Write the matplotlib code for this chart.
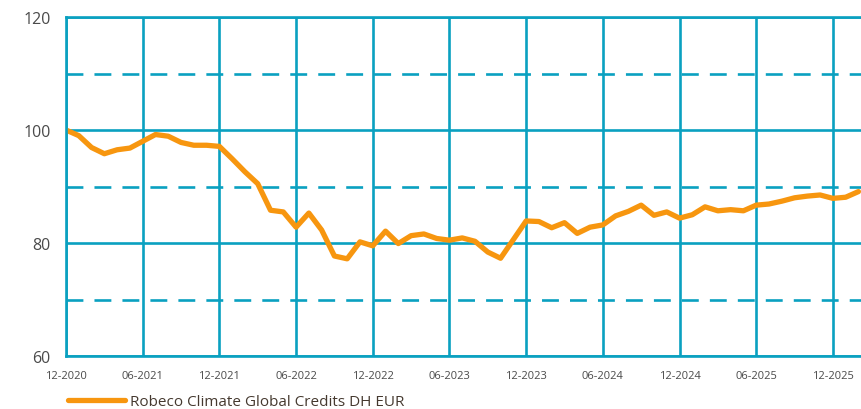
import matplotlib
matplotlib.use("Agg")
import matplotlib.pyplot as plt
from matplotlib.ticker import FixedLocator

# Monthly index values, starting 12-2020 (month 0)
values = [100.0, 99.0, 96.9, 95.8, 96.5, 96.8, 98.0, 99.2, 98.9, 97.8,
          97.3, 97.3, 97.1, 94.9, 92.6, 90.5, 85.8, 85.5, 82.8, 85.3,
          82.3, 77.7, 77.2, 80.2, 79.5, 82.1, 79.9, 81.3, 81.6, 80.8,
          80.5, 80.9, 80.3, 78.4, 77.3, 80.6, 83.9, 83.8, 82.7, 83.6,
          81.7, 82.8, 83.2, 84.8, 85.6, 86.7, 84.9, 85.5, 84.4, 85.0,
          86.4, 85.7, 85.9, 85.7, 86.7, 86.9, 87.4, 88.0, 88.3, 88.5,
          87.9, 88.1, 89.1]
months = list(range(len(values)))
tick_positions = [0, 6, 12, 18, 24, 30, 36, 42, 48, 54, 60]
tick_labels = ["12-2020", "06-2021", "12-2021", "06-2022", "12-2022", "06-2023",
               "12-2023", "06-2024", "12-2024", "06-2025", "12-2025"]
y_major = [60, 80, 100, 120]
y_minor = [70, 90, 110]
series_name = "Robeco Climate Global Credits DH EUR"

grid_color = "#0aa0c0"
line_color = "#f7960f"
text_color = "#4a4a4a"

plt.rcParams["font.family"] = ["Open Sans", "DejaVu Sans"]

fig = plt.figure(figsize=(8.61, 4.10), dpi=100)
ax = fig.add_axes([66/861, 1-357/410, 1-66/861, (357-18)/410])

ax.set_xlim(0, 62.2)
ax.set_ylim(60, 120)

ax.xaxis.set_major_locator(FixedLocator(tick_positions))
ax.set_xticklabels(tick_labels)
ax.yaxis.set_major_locator(FixedLocator(y_major))
ax.yaxis.set_minor_locator(FixedLocator(y_minor))

ax.grid(True, which="major", axis="both", color=grid_color, linewidth=1.9, linestyle="-")
ax.grid(True, which="minor", axis="y", color=grid_color, linewidth=1.9, linestyle=(0, (6.4, 4.2)))
ax.set_axisbelow(True)

for side in ["left", "bottom", "top"]:
    ax.spines[side].set_color(grid_color)
    ax.spines[side].set_linewidth(1.9)
ax.spines["right"].set_visible(False)

ax.tick_params(axis="both", which="both", length=0)
ax.tick_params(axis="y", labelsize=11.5, labelcolor=text_color, pad=11)
ax.tick_params(axis="x", labelsize=8, labelcolor=text_color, pad=10)

line, = ax.plot(months, values, color=line_color, linewidth=3.8,
                solid_joinstyle="round", solid_capstyle="round",
                label=series_name, clip_on=True)

leg = fig.legend(handles=[line], labels=[series_name], loc="center left",
                 bbox_to_anchor=(68/861, 1-403/410), bbox_transform=fig.transFigure,
                 frameon=False, borderpad=0, borderaxespad=0,
                 handlelength=3.7, handletextpad=0.35, fontsize=11)
for t in leg.get_texts():
    t.set_color("#45392f")

fig.savefig("out.png", dpi=100)
